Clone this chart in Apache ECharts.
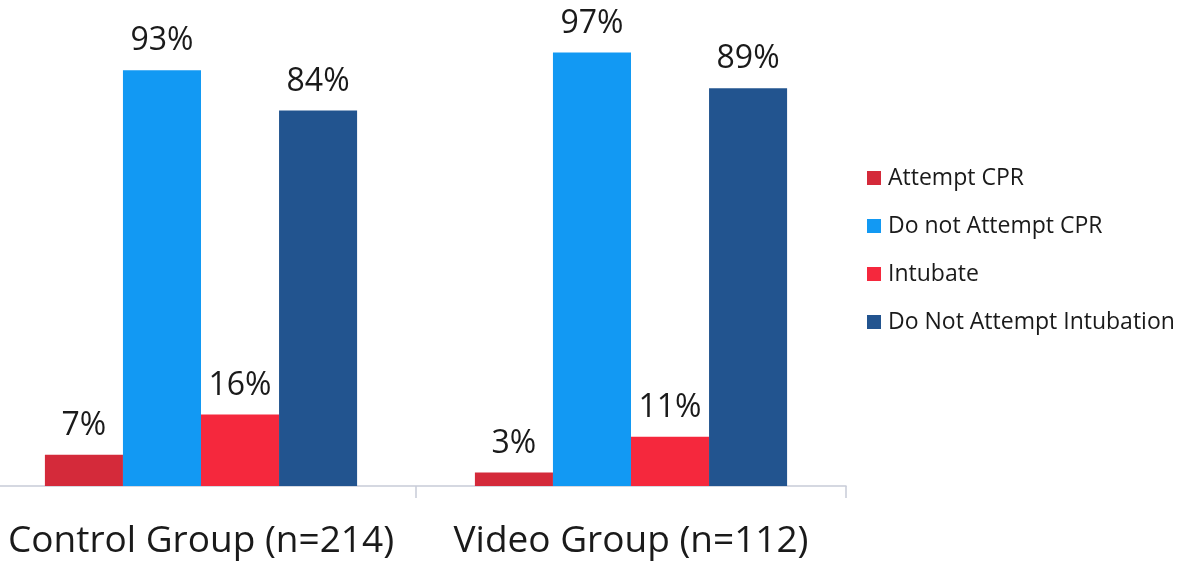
<!DOCTYPE html>
<html>
<head>
<meta charset="utf-8">
<script src="https://cdn.jsdelivr.net/npm/echarts@6/dist/echarts.min.js"></script>
<style>
html,body{margin:0;padding:0;background:#fff;overflow:hidden;width:1185px;height:565px;}
#chart{width:1199px;height:565px;margin-left:-14px;}
</style>
</head>
<body>
<div id="chart"></div>
<script>
const categories = ['Control Group (n=214)', 'Video Group (n=112)'];
const seriesNames = ['Attempt CPR', 'Do not Attempt CPR', 'Intubate', 'Do Not Attempt Intubation'];
const attemptCPR = [7, 3];
const doNotAttemptCPR = [93, 97];
const intubate = [16, 11];
const doNotIntubate = [84, 89];
const colors = ['#d42a3a', '#1299f3', '#f5283d', '#22548f'];

const values = [attemptCPR, doNotAttemptCPR, intubate, doNotIntubate];
const font = '"Open Sans", "DejaVu Sans", sans-serif';

const chart = echarts.init(document.getElementById('chart'));
chart.setOption({
  animation: false,
  backgroundColor: '#ffffff',
  grid: { left: 0, right: 339, top: 39, bottom: 79, containLabel: false },
  legend: {
    orient: 'vertical',
    left: 881,
    top: 166,
    padding: 0,
    itemWidth: 14,
    itemHeight: 14,
    itemGap: 24,
    icon: 'rect',
    data: seriesNames,
    textStyle: { fontFamily: font, fontSize: 23, color: '#1a1a1a', lineHeight: 24, padding: [0, 0, 0, 2] }
  },
  xAxis: {
    type: 'category',
    data: categories,
    axisLine: { show: true, lineStyle: { color: '#c7ccd8', width: 1.5 } },
    axisTick: { show: true, length: 12, lineStyle: { color: '#c7ccd8', width: 1.5 } },
    axisLabel: { interval: 0, fontFamily: font, fontSize: 37, color: '#1a1a1a', margin: 37 }
  },
  yAxis: {
    type: 'value',
    min: 0,
    max: 100,
    show: false,
    splitLine: { show: false }
  },
  series: seriesNames.map((name, i) => ({
    name: name,
    type: 'bar',
    data: values[i],
    barGap: '0%',
    barCategoryGap: '27.4%',
    itemStyle: { color: colors[i] },
    label: {
      show: true,
      position: 'top',
      distance: 13,
      formatter: '{c}%',
      fontFamily: font,
      fontSize: 32,
      color: '#1a1a1a'
    }
  }))
});
</script>
</body>
</html>
